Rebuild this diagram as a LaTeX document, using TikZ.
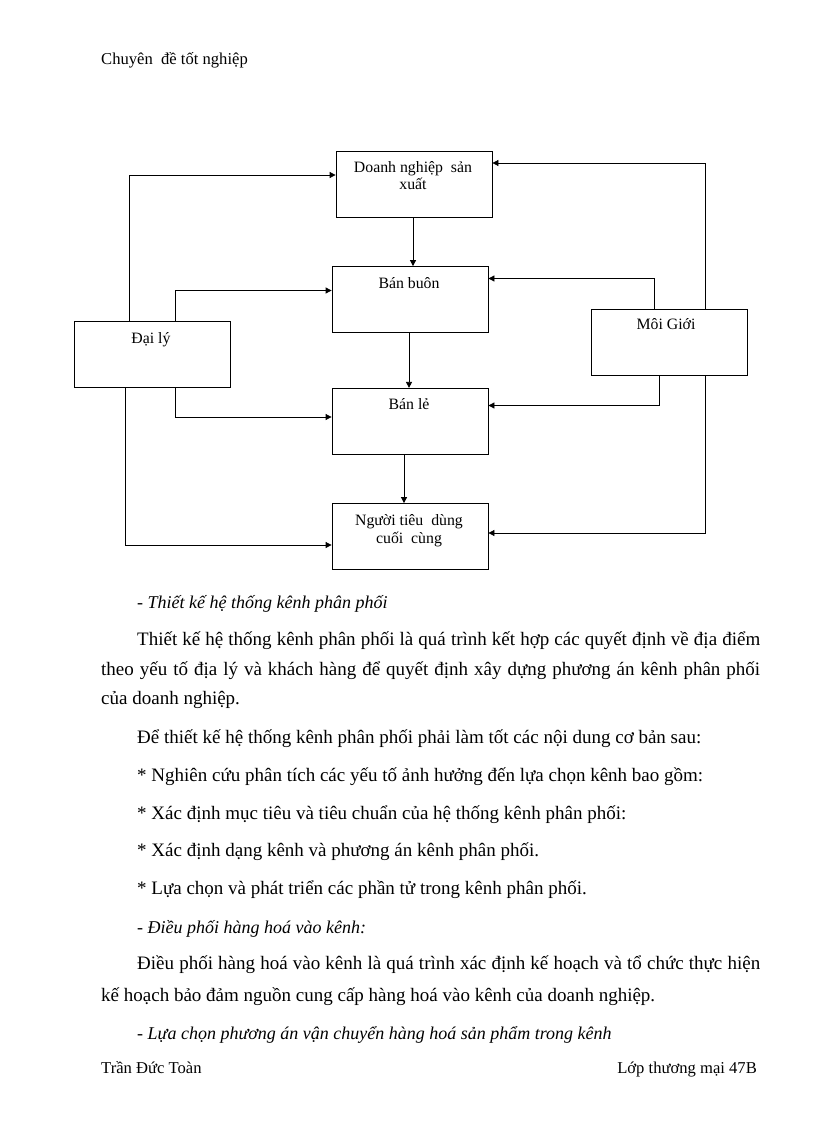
\documentclass[tikz,border=0pt]{standalone}
\usepackage{fontspec}
\setmainfont{Liberation Serif}
\usetikzlibrary{arrows.meta}
\begin{document}
\begin{tikzpicture}[x=1pt,y=-1pt,
  box/.style={draw,line width=0.8pt,minimum width=156pt,minimum height=66pt,inner sep=0pt},
  lbl/.style={font=\fontsize{15.8}{18}\selectfont,inner sep=0pt,anchor=base},
  arr/.style={line width=0.8pt,-{Triangle[length=6pt,width=6pt]}},
  body/.style={font=\fontsize{19}{22}\selectfont,inner sep=0pt,anchor=base west},
  ibody/.style={font=\fontsize{18}{21}\itshape\selectfont,inner sep=0pt,anchor=base west},
  small/.style={font=\fontsize{16.6}{19}\selectfont,inner sep=0pt,anchor=base west}]
\useasboundingbox[fill=white] (0,0) rectangle (816,1123);
% header
\node[small] (hdr) at (101,65) {Chuyên\ \ đề tốt nghiệp};
% boxes
\node[box] (dn) at (414,184.5) {};
\node[box] (bb) at (410,299.5) {};
\node[box] (bl) at (410,421.3) {};
\node[box] (nt) at (410,536.5) {};
\node[box] (dl) at (152,354.8) {};
\node[box] (mg) at (669,342.8) {};
% labels
\node[lbl] (dn1) at (413,173) {Doanh nghiệp\ \ sản};
\node[lbl] (dn2) at (413,190) {xuất};
\node[lbl] (bb1) at (409,288) {Bán buôn};
\node[lbl] (bl1) at (409,409) {Bán lẻ};
\node[lbl] (nt1) at (409,525) {Người tiêu\ \ dùng};
\node[lbl] (nt2) at (409,543) {cuối\ \ cùng};
\node[lbl] (dl1) at (151,343) {Đại lý};
\node[lbl] (mg1) at (666,329) {Môi Giới};
% connectors
\draw[arr] (dl.north -| 129.5,0) |- (dn.west |- 0,175);
\draw[arr] (dl.north -| 175.7,0) |- (bb.west |- 0,290.5);
\draw[arr] (dl.south -| 175.7,0) |- (bl.west |- 0,417);
\draw[arr] (dl.south -| 125,0) |- (nt.west |- 0,545);
\draw[arr] (dn.south -| 413,0) -- (bb.north -| 413,0);
\draw[arr] (bb.south -| 409,0) -- (bl.north -| 409,0);
\draw[arr] (bl.south -| 404,0) -- (nt.north -| 404,0);
\draw[arr] (mg.north -| 705,0) |- (dn.east |- 0,163);
\draw[arr] (mg.north -| 654.6,0) |- (bb.east |- 0,278.5);
\draw[arr] (mg.south -| 659.5,0) |- (bl.east |- 0,405.5);
\draw[arr] (mg.south -| 705,0) |- (nt.east |- 0,533);
% body text
\node[ibody] (t1) at (137,608) {- Thiết kế hệ thống kênh phân phối};
\node[body] (t2) at (137,645) {\makebox[623pt][s]{Thiết kế hệ thống kênh phân phối là quá trình kết hợp các quyết định về địa điểm}};
\node[body] (t3) at (101,675) {\makebox[659pt][s]{theo yếu tố địa lý và khách hàng để quyết định xây dựng phương án kênh phân phối}};
\node[body] (t4) at (101,704) {của doanh nghiệp.};
\node[body] (t5) at (137,743) {Để thiết kế hệ thống kênh phân phối phải làm tốt các nội dung cơ bản sau:};
\node[body] (t6) at (137,781) {* Nghiên cứu phân tích các yếu tố ảnh hưởng đến lựa chọn kênh bao gồm:};
\node[body] (t7) at (137,819) {* Xác định mục tiêu và tiêu chuẩn của hệ thống kênh phân phối:};
\node[body] (t8) at (137,856) {* Xác định dạng kênh và phương án kênh phân phối.};
\node[body] (t9) at (137,894) {* Lựa chọn và phát triển các phần tử trong kênh phân phối.};
\node[ibody] (t10) at (137,933) {- Điều phối hàng hoá vào kênh:};
\node[body] (t11) at (137,969) {\makebox[623pt][s]{Điều phối hàng hoá vào kênh là quá trình xác định kế hoạch và tổ chức thực hiện}};
\node[body] (t12) at (101,1001) {kế hoạch bảo đảm nguồn cung cấp hàng hoá vào kênh của doanh nghiệp.};
\node[ibody] (t13) at (137,1039) {- Lựa chọn phương án vận chuyển hàng hoá sản phẩm trong kênh};
% footer
\node[small] (f1) at (101,1073) {Trần Đức Toàn};
\node[small,anchor=base east] (f2) at (757,1073) {Lớp thương mại 47B};
\end{tikzpicture}
\end{document}
